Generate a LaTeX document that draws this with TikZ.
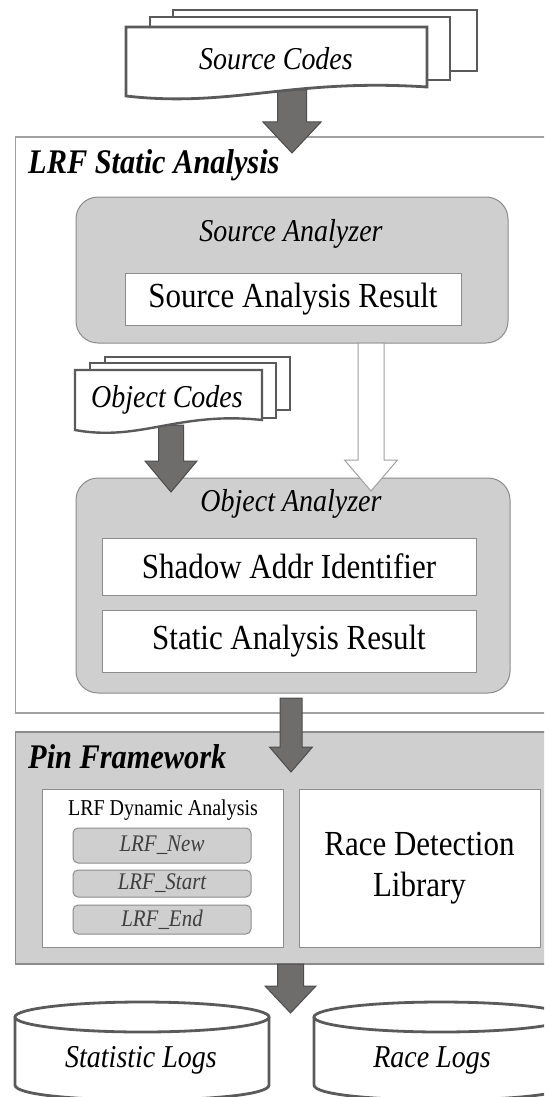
\documentclass[tikz,border=0pt]{standalone}
\usepackage{fontspec}
\setmainfont[FakeStretch=0.88]{Liberation Serif}
\usetikzlibrary{calc}
\definecolor{lgray}{HTML}{D0CFCF}
\definecolor{bgray}{HTML}{8C8C8C}
\definecolor{fgray}{HTML}{A0A0A0}
\definecolor{agray}{HTML}{6F6C6C}
\definecolor{aedge}{HTML}{4D4D4D}
\definecolor{dgray}{HTML}{5A5A5A}
\definecolor{tgray}{HTML}{3F3F3F}
\tikzset{
  rbox/.style={draw=bgray, fill=lgray, line width=1pt, rounded corners=22pt, inner sep=0pt},
  wbox/.style={draw=bgray, fill=white, line width=1pt, inner sep=0pt},
  framebox/.style={draw=fgray, fill=white, line width=1.2pt, inner sep=0pt},
  pinbox/.style={draw=bgray, fill=lgray, line width=1.2pt, inner sep=0pt},
  fnbox/.style={draw=bgray, fill=lgray, line width=1pt, rounded corners=5pt, inner sep=0pt, text=tgray, font=\fontsize{23.8}{25}\selectfont\itshape},
  doc/.style={draw=dgray, fill=white, line width=2.8pt, line join=miter},
  darrow/.style={draw=aedge, fill=agray, line width=1pt, line join=miter},
  warrow/.style={draw=fgray, fill=white, line width=1pt, line join=miter},
  ital/.style={font=\fontsize{31.8}{33}\selectfont\itshape, inner sep=0pt},
  headlbl/.style={font=\fontsize{34.5}{36}\selectfont\bfseries\itshape, inner sep=0pt},
  plain/.style={font=\fontsize{35.2}{37}\selectfont},
  db/.style={draw=dgray, line width=2.8pt, fill=white},
}
% block arrow: style, start coord, tip coord, shaft half width, head half width, head length
\newcommand{\blockarrow}[6]{%
  \path[#1] let \p1=(#2), \p2=(#3) in
    ({\x2-#4},{\y1}) -- ({\x2+#4},{\y1}) -- ({\x2+#4},{\y2+#6}) -- ({\x2+#5},{\y2+#6})
    -- (\x2,\y2) -- ({\x2-#5},{\y2+#6}) -- ({\x2-#4},{\y2+#6}) -- cycle;}
% document shape: style, x1, ytop, x2, y bottom-left, y bottom-right
\newcommand{\docshape}[6]{%
  \draw[#1] (#2,#3) -- (#4,#3) -- (#4,#6)
    .. controls ({#2+0.55*(#4-#2)},{#6-9}) and ({#2+0.35*(#4-#2)},{#5+12}) .. (#2,#5) -- cycle;}
% database cylinder: cx, rx, ytop, ybottom
\newcommand{\dbshape}[4]{%
  \draw[db] ({#1-#2},#3) -- ({#1-#2},#4) .. controls ({#1-#2},{#4+20}) and ({#1+#2},{#4+20}) .. ({#1+#2},#4) -- ({#1+#2},#3);
  \draw[db] (#1,#3) ellipse [x radius=#2pt, y radius=15pt];}
\begin{document}
\begin{tikzpicture}[x=1pt,y=-1pt]
\useasboundingbox (0,0) rectangle (544,1097);
\clip (0,0) rectangle (544,1097);

% LRF static analysis frame
\node[framebox, minimum width=544.5pt, minimum height=576pt] (lrf) at (287.75,425) {};
\node[headlbl, anchor=base west] (lrft) at (28,173) {LRF Static Analysis};

\node[rbox, minimum width=432pt, minimum height=146pt] (sa) at (292,270) {};
\node[ital] (sat) at (291,234) {Source Analyzer};
\node[wbox, plain, minimum width=336pt, minimum height=52pt] (sar) at (293,299) {Source Analysis Result};

\node[rbox, minimum width=434pt, minimum height=215pt] (oa) at (293,585.5) {};
\node[ital] (oat) at (291,504) {Object Analyzer};
\node[wbox, plain, minimum width=374pt, minimum height=57pt] (sai) at (289,566.5) {Shadow Addr Identifier};
\node[wbox, plain, minimum width=374pt, minimum height=62pt] (sres) at (289,641) {Static Analysis Result};

% Pin framework
\node[pinbox, minimum width=544.5pt, minimum height=232pt] (pin) at (287.75,848) {};
\node[headlbl, anchor=base west] (pint) at (28,768) {Pin Framework};
\node[wbox, minimum width=241pt, minimum height=158pt] (dyn) at (162.5,868) {};
\node[font=\fontsize{22.7}{24}\selectfont, inner sep=0pt] (dynt) at (163,810) {LRF Dynamic Analysis};
\node[fnbox, minimum width=178pt, minimum height=35pt] (fnew) at (162,845.5) {LRF\_New};
\node[fnbox, minimum width=178pt, minimum height=27pt] (fstart) at (162,883.5) {LRF\_Start};
\node[fnbox, minimum width=178pt, minimum height=29pt] (fend) at (162,919.5) {LRF\_End};
\node[wbox, minimum width=241pt, minimum height=158pt, align=center, font=\fontsize{35.2}{41}\selectfont] (rdl) at (419.5,868) {Race Detection\\Library};

% arrows
\coordinate (a1s) at (292,90);   \coordinate (a1e) at (292,153);
\coordinate (a2s) at (171,425);  \coordinate (a2e) at (171,492);
\coordinate (a3s) at (291,698);  \coordinate (a3e) at (291,772);
\coordinate (a4s) at (290,964);  \coordinate (a4e) at (290.5,1013);
\coordinate (aws) at (371,343);  \coordinate (awe) at (371,491);
\blockarrow{darrow}{a1s}{a1e}{14.5pt}{29pt}{31pt}
\blockarrow{darrow}{a2s}{a2e}{12.5pt}{26pt}{31pt}
\blockarrow{warrow}{aws}{awe}{13pt}{26.5pt}{31pt}
\blockarrow{darrow}{a3s}{a3e}{11pt}{21.5pt}{25pt}
\blockarrow{darrow}{a4s}{a4e}{13pt}{25.5pt}{27pt}

% source code documents
\draw[doc] (173,10) rectangle (477,71);
\draw[doc] (150,17) rectangle (450,80);
\docshape{doc}{126}{27}{427}{96}{87}
\node[ital] (src) at (276,59) {Source Codes};

% object code documents
\draw[doc, line width=2.4pt] (105,357) rectangle (290,410);
\draw[doc, line width=2.4pt] (90,363) rectangle (276,418);
\docshape{doc, line width=2.4pt}{75}{370}{262}{430}{420}
\node[ital] (obj) at (167,400) {Object Codes};

% logs
\dbshape{142}{127}{1017}{1085}
\dbshape{441}{127}{1017}{1085}
\node[ital] (slog) at (141,1060) {Statistic Logs};
\node[ital] (rlog) at (432,1060) {Race Logs};
\end{tikzpicture}
\end{document}
